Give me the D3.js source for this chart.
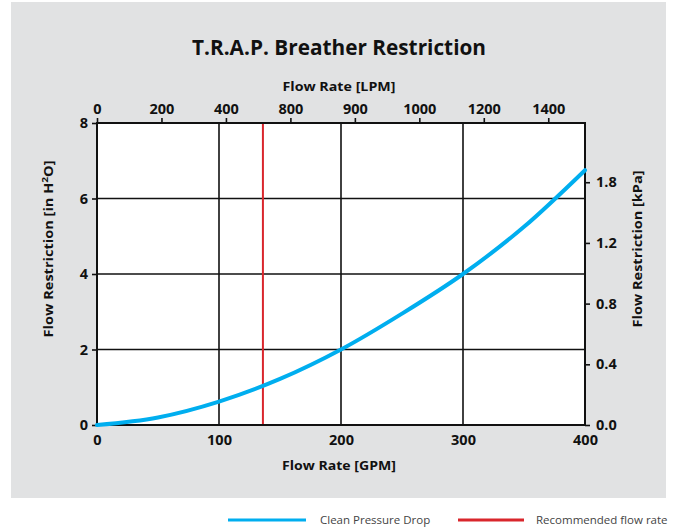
<!DOCTYPE html>
<html>
<head>
<meta charset="utf-8">
<script src="https://cdn.jsdelivr.net/npm/d3@7"></script>
<style>
  body { margin: 0; background: #fff; }
  svg { display: block; font-family: "Open Sans", "Noto Sans", sans-serif; }
</style>
</head>
<body>
<script>
// data
const gpm = [0, 50, 100, 150, 200, 250, 300, 350, 400];
const pressure = [0, 0.2, 0.62, 1.22, 2.0, 2.95, 4.0, 5.25, 6.75];
const recommendedGpm = 136;
const gpmTicks = [0, 100, 200, 300, 400];
const lpmTicks = [0, 200, 400, 600, 800, 1000, 1200, 1400];
const lpmLabels = ['0', '200', '400', '800', '900', '1000', '1200', '1400'];
const inTicks = [0, 2, 4, 6, 8];
const kpaTicks = [0, 0.4, 0.8, 1.2, 1.6];
const kpaLabels = ['0.0', '0.4', '0.8', '1.2', '1.8'];

const W = 674, H = 529;
const plotLeft = 97, plotRight = 585, plotTop = 123, plotBottom = 425;

const svg = d3.select('body').append('svg')
    .attr('width', W)
    .attr('height', H);

// grey panel
svg.append('rect')
    .attr('x', 11).attr('y', 2)
    .attr('width', 655).attr('height', 496)
    .attr('fill', '#e1e2e3');

const x = d3.scaleLinear().domain([0, 400]).range([plotLeft, plotRight]);
const xLpm = d3.scaleLinear().domain([0, 400 * 3.785]).range([plotLeft, plotRight]);
const y = d3.scaleLinear().domain([0, 8]).range([plotBottom, plotTop]);
const yKpa = d3.scaleLinear().domain([0, 8 * 0.2488]).range([plotBottom, plotTop]);

svg.append('rect')
    .attr('x', plotLeft).attr('y', plotTop)
    .attr('width', plotRight - plotLeft).attr('height', plotBottom - plotTop)
    .attr('fill', '#fff');

// grid
const grid = svg.append('g').attr('stroke', '#111').attr('stroke-width', 1.6);
grid.selectAll('.vg').data(gpmTicks.slice(1, -1)).enter().append('line')
    .attr('x1', d => x(d)).attr('x2', d => x(d))
    .attr('y1', plotTop).attr('y2', plotBottom);
grid.selectAll('.hg').data(inTicks.slice(1, -1)).enter().append('line')
    .attr('x1', plotLeft).attr('x2', plotRight)
    .attr('y1', d => y(d)).attr('y2', d => y(d));

// axes
const cleanAxis = g => {
    g.select('.domain').remove();
    g.selectAll('line').attr('stroke', '#111').attr('stroke-width', 1.6);
    g.selectAll('text')
        .attr('font-size', 14.5).attr('font-weight', 700).attr('fill', '#111')
        .attr('font-family', '"Open Sans", sans-serif');
};

svg.append('g')
    .attr('transform', `translate(0,${plotTop})`)
    .call(d3.axisTop(xLpm).tickValues(lpmTicks).tickSize(5).tickPadding(4)
        .tickFormat((d, i) => lpmLabels[i]))
    .call(cleanAxis);

svg.append('g')
    .attr('transform', `translate(0,${plotBottom})`)
    .call(d3.axisBottom(x).tickValues(gpmTicks).tickSize(0).tickPadding(10))
    .call(cleanAxis);

svg.append('g')
    .attr('transform', `translate(${plotLeft},0)`)
    .call(d3.axisLeft(y).tickValues(inTicks).tickSize(5).tickPadding(4))
    .call(cleanAxis);

svg.append('g')
    .attr('transform', `translate(${plotRight},0)`)
    .call(d3.axisRight(yKpa).tickValues(kpaTicks).tickSize(5).tickPadding(6)
        .tickFormat((d, i) => kpaLabels[i]))
    .call(cleanAxis);

// border
svg.append('rect')
    .attr('x', plotLeft).attr('y', plotTop)
    .attr('width', plotRight - plotLeft).attr('height', plotBottom - plotTop)
    .attr('fill', 'none').attr('stroke', '#111').attr('stroke-width', 2);

// recommended flow rate
svg.append('line')
    .attr('x1', x(recommendedGpm)).attr('x2', x(recommendedGpm))
    .attr('y1', plotTop + 1).attr('y2', plotBottom - 1)
    .attr('stroke', '#d9262c').attr('stroke-width', 2);

// pressure drop curve
const line = d3.line()
    .x((d, i) => x(gpm[i]))
    .y(d => y(d))
    .curve(d3.curveMonotoneX);
svg.append('path')
    .attr('d', line(pressure))
    .attr('fill', 'none')
    .attr('stroke', '#00aeef')
    .attr('stroke-width', 4)
    .attr('stroke-linecap', 'round');

// titles
svg.append('text')
    .attr('x', 339).attr('y', 55)
    .attr('text-anchor', 'middle')
    .attr('font-size', 22).attr('font-weight', 700).attr('fill', '#111')
    .attr('textLength', 294).attr('lengthAdjust', 'spacingAndGlyphs')
    .text('T.R.A.P. Breather Restriction');

const axisTitle = (tx, ty, rot, len) => svg.append('text')
    .attr('transform', `translate(${tx},${ty}) rotate(${rot})`)
    .attr('text-anchor', 'middle')
    .attr('font-size', 13).attr('font-weight', 700).attr('fill', '#111')
    .attr('textLength', len).attr('lengthAdjust', 'spacingAndGlyphs');

axisTitle(339, 91, 0, 113).text('Flow Rate [LPM]');
axisTitle(339, 470, 0, 114).text('Flow Rate [GPM]');
const lt = axisTitle(53, 249, -90, 177);
lt.append('tspan').text('Flow Restriction [in H');
lt.append('tspan').attr('font-size', 9).attr('dy', -5).text('2');
lt.append('tspan').attr('dy', 5).text('O]');
axisTitle(642, 249, -90, 157).text('Flow Restriction [kPa]');

// legend
const legend = [
    { label: 'Clean Pressure Drop', color: '#00aeef', x0: 228, x1: 306, tx: 320 },
    { label: 'Recommended flow rate', color: '#d9262c', x0: 458, x1: 524, tx: 536 }
];
const lg = svg.selectAll('.lg').data(legend).enter().append('g');
lg.append('line')
    .attr('x1', d => d.x0).attr('x2', d => d.x1)
    .attr('y1', 520).attr('y2', 520)
    .attr('stroke', d => d.color).attr('stroke-width', 3);
lg.append('text')
    .attr('x', d => d.tx).attr('y', 524)
    .attr('font-size', 11.5).attr('fill', '#444')
    .text(d => d.label);
</script>
</body>
</html>
